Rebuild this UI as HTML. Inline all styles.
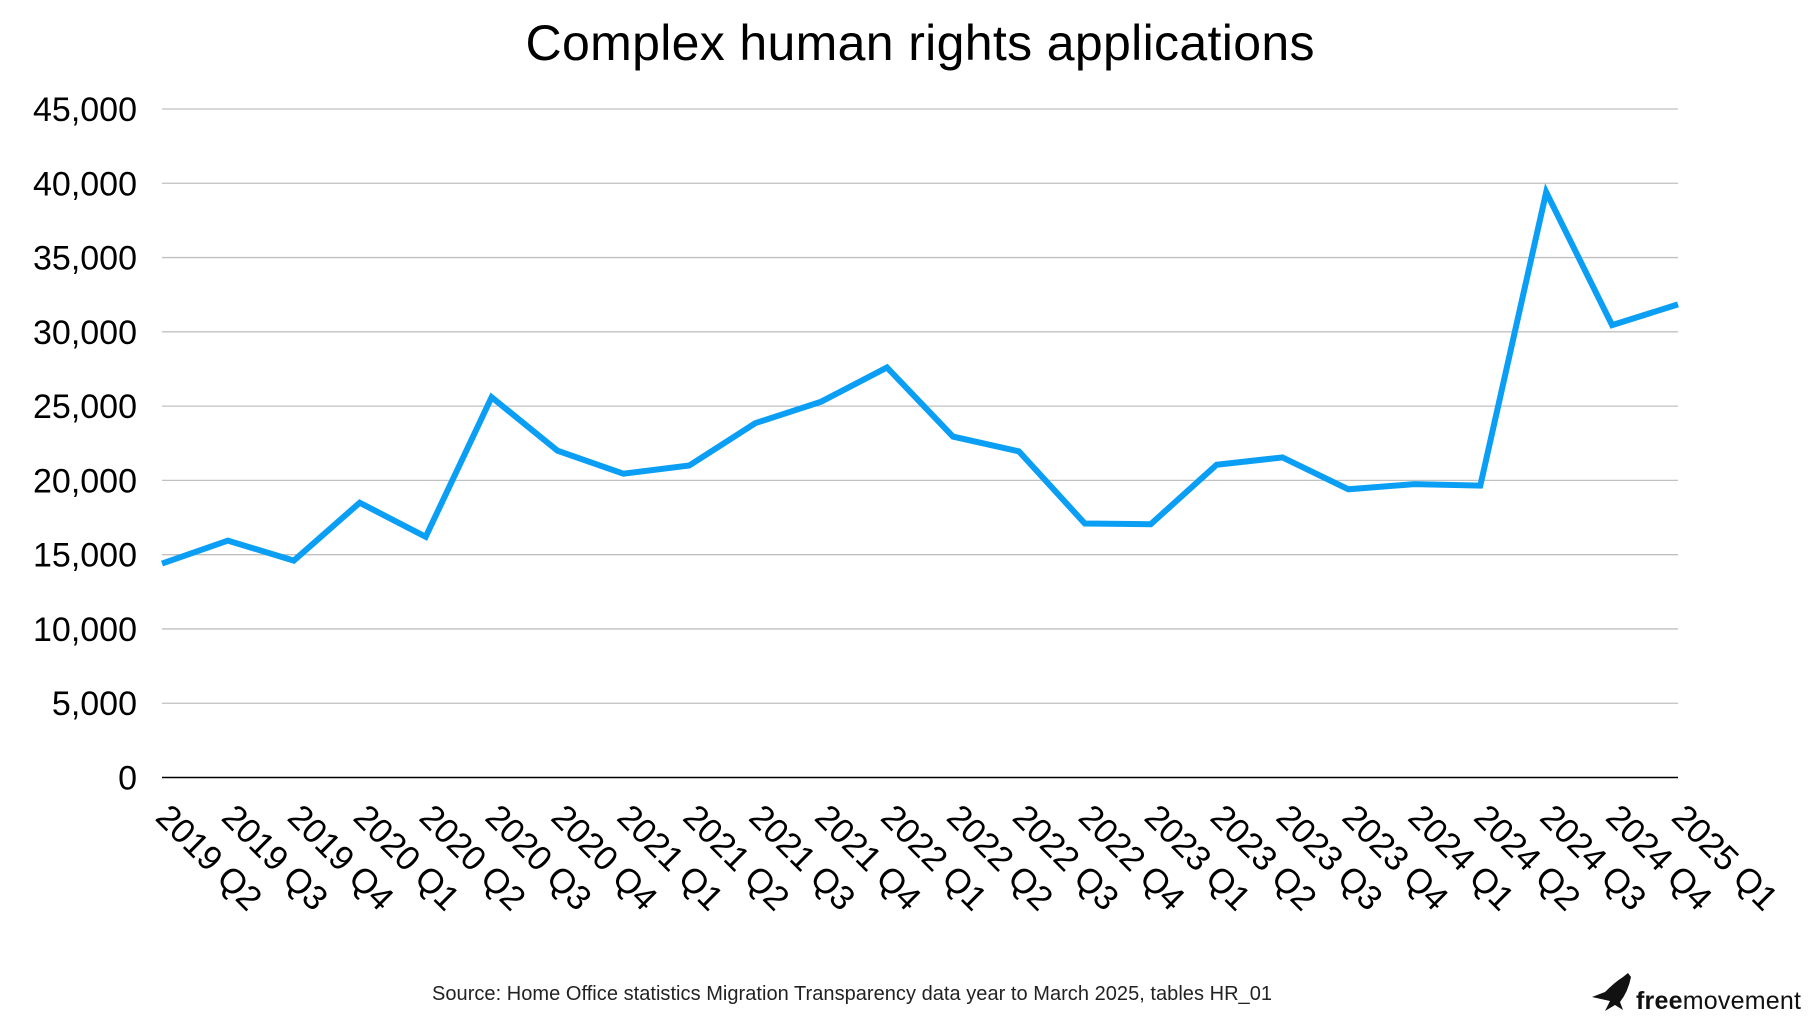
<!DOCTYPE html>
<html><head><meta charset="utf-8"><style>
html,body{margin:0;padding:0;background:#fff;}
svg{display:block;font-family:"Liberation Sans",Arial,sans-serif;}
</style></head><body>
<svg width="1812" height="1024" viewBox="0 0 1812 1024" xmlns="http://www.w3.org/2000/svg">
<text x="920" y="60" font-size="50" text-anchor="middle" textLength="789" fill="#000">Complex human rights applications</text>
<g id="grid" stroke="#c0c0c0" stroke-width="1.3"></g>
<line x1="162" y1="777.5" x2="1678" y2="777.5" stroke="#000" stroke-width="1.5"/>
<g id="ylab" font-size="34" text-anchor="end" fill="#000"></g>
<g id="xlab" font-size="34.5" fill="#000"></g>
<polyline id="line" fill="none" stroke="#0a9ff5" stroke-width="6" stroke-linejoin="miter"/>
<text x="852" y="1000" font-size="20" text-anchor="middle" textLength="840" fill="#222">Source: Home Office statistics Migration Transparency data year to March 2025, tables HR_01</text>
<path d="M1592 997 L1605 992 Q1615 982 1623 977 L1628 973 L1631 977 Q1628 992 1620 1002 L1623 1010 L1615 1005 L1605 1011 L1610 1001 Z" fill="#111"/>
<text x="1636" y="1009" font-size="25" textLength="165" fill="#111"><tspan font-weight="bold">free</tspan>movement</text>
</svg>
<script>
const ns="http://www.w3.org/2000/svg";
const y0=777.5, k=(777.5-109)/45000;
const L=162,R=1678;
const g=document.getElementById('grid'), yl=document.getElementById('ylab'), xl=document.getElementById('xlab');
for(let v=5000;v<=45000;v+=5000){
 const y=y0-v*k;
 const l=document.createElementNS(ns,'line');
 l.setAttribute('x1',L);l.setAttribute('x2',R);l.setAttribute('y1',y);l.setAttribute('y2',y);g.appendChild(l);
}
for(let v=0;v<=45000;v+=5000){
 const t=document.createElementNS(ns,'text');t.setAttribute('x',137);t.setAttribute('y',y0-v*k+12);
 t.textContent=v.toLocaleString('en-US');yl.appendChild(t);
}
const data=[14400,15950,14600,18500,16200,25600,22000,20450,21000,23850,25300,27600,22950,21950,17100,17050,21050,21550,19400,19750,19650,39400,30450,31850];
const labels=["2019 Q2","2019 Q3","2019 Q4","2020 Q1","2020 Q2","2020 Q3","2020 Q4","2021 Q1","2021 Q2","2021 Q3","2021 Q4","2022 Q1","2022 Q2","2022 Q3","2022 Q4","2023 Q1","2023 Q2","2023 Q3","2023 Q4","2024 Q1","2024 Q2","2024 Q3","2024 Q4","2025 Q1"];
const step=(R-L)/23;
let pts=[];
data.forEach((v,i)=>{
 const x=L+i*step;pts.push(x.toFixed(1)+','+(y0-v*k).toFixed(1));
 const t=document.createElementNS(ns,'text');
 t.setAttribute('transform',`translate(${x+9},${802}) rotate(45)`);
 t.setAttribute('x',0);t.setAttribute('y',24);
 t.textContent=labels[i];xl.appendChild(t);
});
document.getElementById('line').setAttribute('points',pts.join(' '));
</script>
</body></html>
